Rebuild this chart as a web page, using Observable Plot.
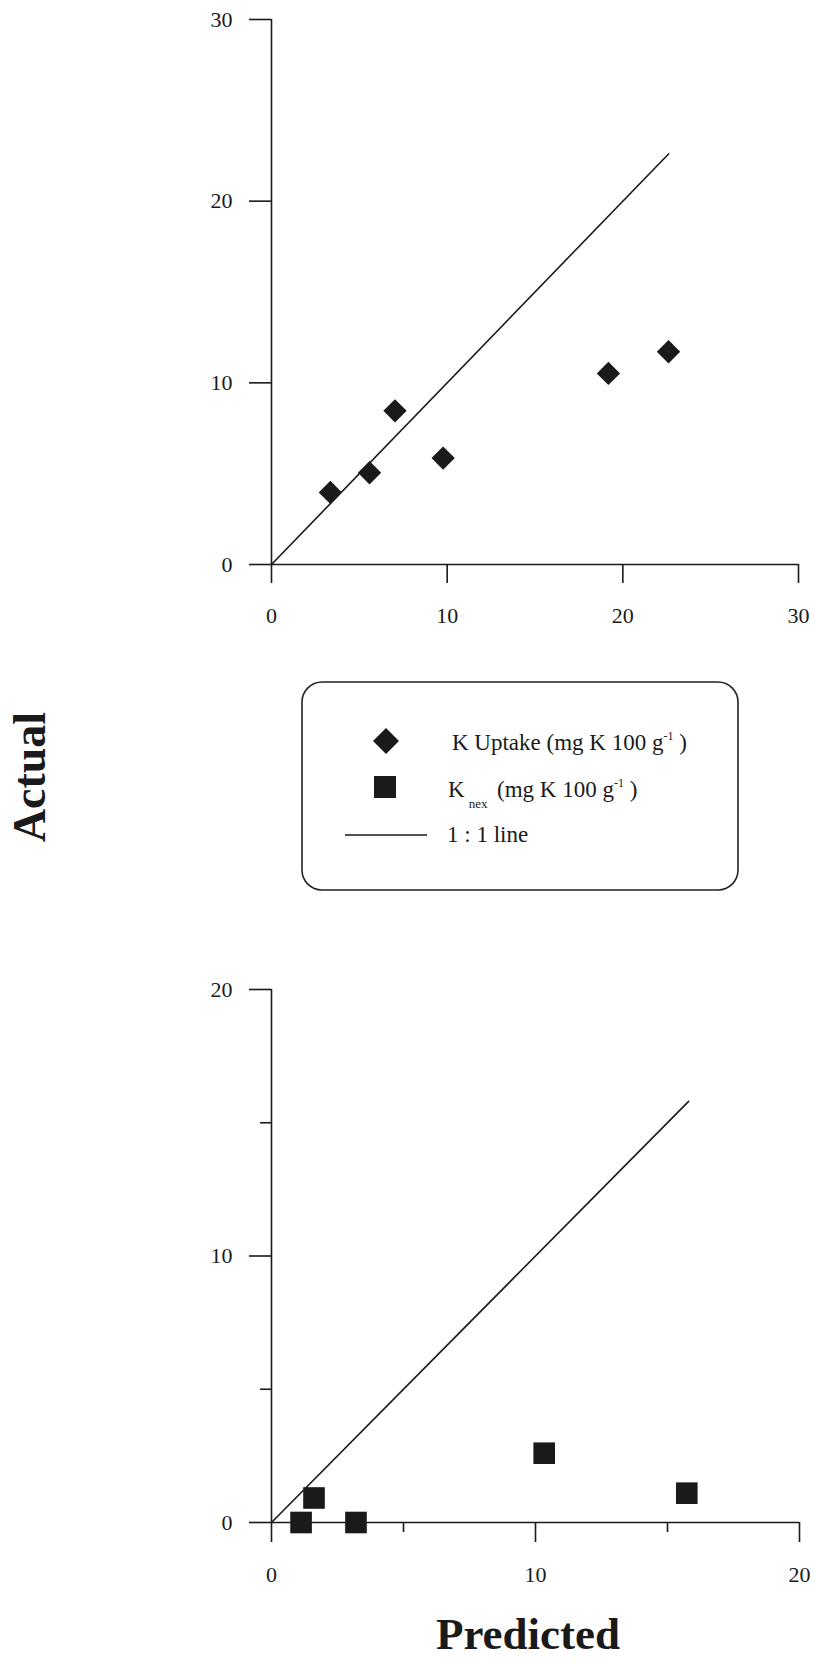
<!DOCTYPE html>
<html>
<head>
<meta charset="utf-8">
<script src="https://cdn.jsdelivr.net/npm/d3@7"></script>
<script src="https://cdn.jsdelivr.net/npm/@observablehq/plot@0.6"></script>
<style>
  html, body { margin: 0; padding: 0; background: #fff; }
  #wrap { position: relative; width: 815px; height: 1664px; overflow: hidden; font-family: "Liberation Serif", "Times New Roman", serif; color: #1a1a1a; }
  .abs { position: absolute; }
  .title { font-weight: bold; font-size: 46px; line-height: 40px; height: 40px; white-space: nowrap; }
</style>
</head>
<body>
<div id="wrap">
  <div id="top" class="abs" style="left:0;top:0;"></div>
  <div id="bottom" class="abs" style="left:0;top:940px;"></div>
  <div class="abs title" style="left:30px;top:777px;transform:translate(-50%,-50%) rotate(-90deg);">Actual</div>
  <div class="abs title" style="left:528px;top:1614px;font-size:45px;transform:translateX(-50%);">Predicted</div>
  <svg class="abs" style="left:0;top:660px;" width="815" height="260" font-family="Liberation Serif, Times New Roman, serif" fill="#1a1a1a">
    <rect x="302" y="22" width="436" height="208" rx="20" ry="20" fill="none" stroke="#222" stroke-width="1.6"></rect>
    <path d="M386,68 L399,81 L386,94 L373,81 Z" fill="#1a1a1a"></path>
    <rect x="374" y="116" width="22" height="22" fill="#1a1a1a"></rect>
    <line x1="345" x2="427" y1="175" y2="175" stroke="#1a1a1a" stroke-width="1.5"></line>
    <text x="452" y="90" font-size="23">K Uptake (mg K 100 g<tspan font-size="12" dy="-10">-1</tspan><tspan dy="10"> )</tspan></text>
    <text x="448" y="137" font-size="23">K<tspan font-size="13" dy="11" dx="4">nex</tspan><tspan x="497" dy="-11">(mg K 100 g</tspan><tspan font-size="12" dy="-10">-1</tspan><tspan dy="10"> )</tspan></text>
    <text x="447" y="182" font-size="23">1 : 1 line</text>
  </svg>
</div>
<script>
// Top panel: K uptake (mg K 100 g-1)
const uptakePredicted = [3.35, 5.58, 7.03, 9.77, 19.18, 22.6];
const uptakeActual    = [3.97, 5.05, 8.46, 5.86, 10.52, 11.71];
const topLine = [0, 22.6];
const topTicks = [0, 10, 20, 30];

// Bottom panel: Knex (mg K 100 g-1)
const knexPredicted = [1.12, 1.61, 3.2, 10.33, 15.73];
const knexActual    = [0, 0.92, 0, 2.6, 1.1];
const bottomLine = [0, 15.8];
const bottomMajorTicks = [0, 10, 20];
const bottomMinorTicks = [5, 15];

const ink = "#1a1a1a";
const baseStyle = { fontFamily: "Liberation Serif, Times New Roman, serif", fontSize: "22px", color: ink, background: "transparent", overflow: "visible" };

const uptake = uptakePredicted.map((p, i) => ({ p, a: uptakeActual[i] }));
const knex = knexPredicted.map((p, i) => ({ p, a: knexActual[i] }));

const topPlot = Plot.plot({
  width: 815, height: 640,
  marginLeft: 271, marginRight: 17, marginTop: 19, marginBottom: 76,
  style: baseStyle,
  x: { domain: [0, 30] },
  y: { domain: [0, 30] },
  marks: [
    Plot.axisX({ ticks: topTicks, tickSize: 19, tickPadding: 24, strokeWidth: 1.6, label: null, fontSize: 22 }),
    Plot.axisY({ ticks: topTicks, tickSize: 22, tickPadding: 17, strokeWidth: 1.6, label: null, fontSize: 22 }),
    Plot.ruleY([0], { stroke: ink, strokeWidth: 1.6 }),
    Plot.ruleX([0], { stroke: ink, strokeWidth: 1.6 }),
    Plot.line(topLine.map(v => ({ v })), { x: "v", y: "v", stroke: ink, strokeWidth: 1.6 }),
    Plot.dot(uptake, { x: "p", y: "a", symbol: "diamond2", r: 10.5, fill: ink, stroke: "none" })
  ]
});
document.getElementById("top").appendChild(topPlot);

const bottomPlot = Plot.plot({
  width: 815, height: 680,
  marginLeft: 271, marginRight: 16, marginTop: 49, marginBottom: 98,
  style: baseStyle,
  x: { domain: [0, 20] },
  y: { domain: [0, 20] },
  marks: [
    Plot.axisX({ ticks: bottomMajorTicks, tickSize: 20, tickPadding: 24, strokeWidth: 1.6, label: null, fontSize: 22 }),
    Plot.axisX({ ticks: bottomMinorTicks, tickSize: 10, tickFormat: () => "", strokeWidth: 1.6, label: null }),
    Plot.axisY({ ticks: bottomMajorTicks, tickSize: 22, tickPadding: 17, strokeWidth: 1.6, label: null, fontSize: 22 }),
    Plot.axisY({ ticks: bottomMinorTicks, tickSize: 11, tickFormat: () => "", strokeWidth: 1.6, label: null }),
    Plot.ruleY([0], { stroke: ink, strokeWidth: 1.6 }),
    Plot.ruleX([0], { stroke: ink, strokeWidth: 1.6 }),
    Plot.line(bottomLine.map(v => ({ v })), { x: "v", y: "v", stroke: ink, strokeWidth: 1.6 }),
    Plot.dot(knex, { x: "p", y: "a", symbol: "square", r: 12.2, fill: ink, stroke: "none" })
  ]
});
document.getElementById("bottom").appendChild(bottomPlot);
</script>
</body>
</html>
